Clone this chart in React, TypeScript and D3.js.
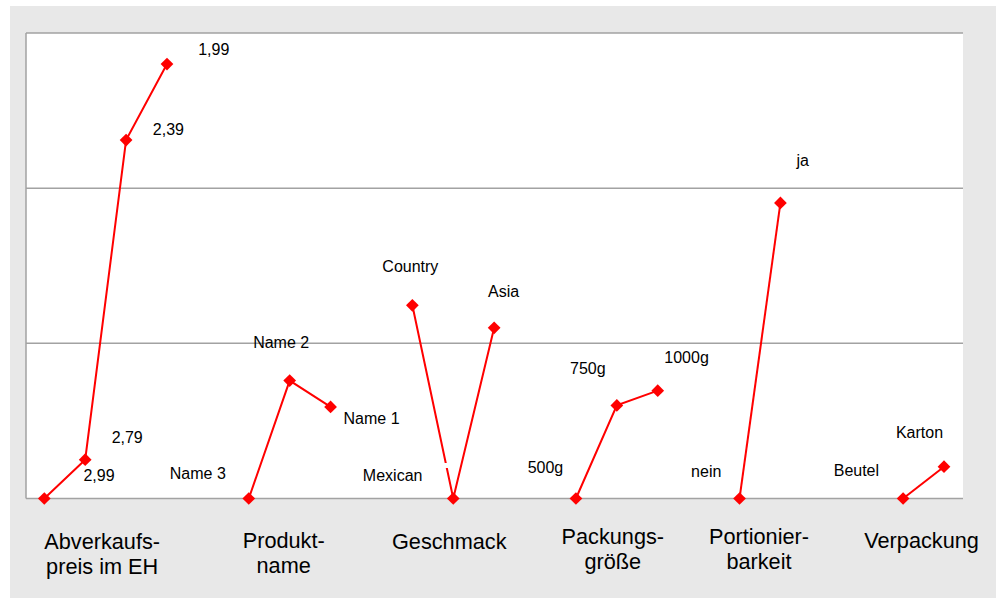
import React from "react";
import * as d3 from "d3";

// ---- data ----
const groupNames: string[][] = [
  ["Abverkaufs-", "preis im EH"],
  ["Produkt-", "name"],
  ["Geschmack"],
  ["Packungs-", "größe"],
  ["Portionier-", "barkeit"],
  ["Verpackung"],
];
const levelsAbverkauf = ["2,99", "2,79", "2,39", "1,99"];
const valuesAbverkauf = [0, 0.25, 2.31, 2.8];
const levelsProdukt = ["Name 3", "Name 2", "Name 1"];
const valuesProdukt = [0, 0.76, 0.59];
const levelsGeschmack = ["Country", "Mexican", "Asia"];
const valuesGeschmack = [1.245, 0, 1.1];
const levelsPackung = ["500g", "750g", "1000g"];
const valuesPackung = [0, 0.6, 0.695];
const levelsPortion = ["nein", "ja"];
const valuesPortion = [0, 1.905];
const levelsVerpackung = ["Beutel", "Karton"];
const valuesVerpackung = [0, 0.205];
const yTicks = [0, 1, 2, 3];

// ---- layout / style (not data) ----
const gapAfter = [1, 1, 1, 1, 2];
const groupLabelDx = [-3.5, -6, -4, -4, -1, -2];
const groupLabelBaseline = [548.5, 548, 548.5, 544.3, 544.3, 548.3];
const labelOffsets: [number, number][][] = [
  [[54.7, -17.5], [42, -17], [42.3, -4.7], [46.8, -9.3]],
  [[-51, -19.5], [-8.5, -32.4], [41, 17.3]],
  [[-2, -33.7], [-60.6, -17.3], [9.5, -31]],
  [[-30.5, -26], [-29, -31], [28.8, -27.4]],
  [[-33.3, -22], [22.3, -37.3]],
  [[-46.7, -23], [-24.5, -29]],
];

const levels = [levelsAbverkauf, levelsProdukt, levelsGeschmack, levelsPackung, levelsPortion, levelsVerpackung];
const values = [valuesAbverkauf, valuesProdukt, valuesGeschmack, valuesPackung, valuesPortion, valuesVerpackung];

const W = 998, H = 598;
const plot = { left: 26, right: 963, top: 33, bottom: 498.5 };
const FONT = "'Liberation Sans', Arial, sans-serif";

// build slot keys
const slots: string[] = [];
const slotOf: string[][] = [];
levels.forEach((lv, gi) => {
  slotOf.push(lv.map((l) => { const k = `${gi}:${l}`; slots.push(k); return k; }));
  if (gi < gapAfter.length) for (let g = 0; g < gapAfter[gi]; g++) slots.push(`gap${gi}-${g}`);
});

export default function App() {
  const x = d3.scalePoint<string>().domain(slots).range([44.3, 944]);
  const y = d3.scaleLinear().domain([0, 3]).range([plot.bottom, plot.top]);
  const line = d3.line<[number, number]>().x((d) => d[0]).y((d) => d[1]);
  const diamond = d3.symbol().type(d3.symbolSquare).size(81)();

  // small white break on the Country–Mexican segment (hidden label box in the original)
  const gx1 = x(slotOf[2][0])!, gy1 = y(valuesGeschmack[0]);
  const gx2 = x(slotOf[2][1])!, gy2 = y(valuesGeschmack[1]);
  const tBreak = (465.5 - gy1) / (gy2 - gy1);
  const breakX = gx1 + (gx2 - gx1) * tBreak;

  return (
    <svg width={W} height={H} style={{ position: "absolute", left: 0, top: 0 }} fontFamily={FONT}>
      <rect x={10} y={6} width={986} height={H - 6} fill="#e8e8e8" />
      <rect x={plot.left} y={plot.top} width={plot.right - plot.left} height={plot.bottom - plot.top} fill="#ffffff" />
      {yTicks.map((t) => (
        <line key={t} x1={plot.left} x2={plot.right} y1={y(t)} y2={y(t)} stroke="#a2a2a2" strokeWidth={1.5} />
      ))}
      <line x1={plot.left} x2={plot.left} y1={plot.top} y2={plot.bottom} stroke="#a2a2a2" strokeWidth={1.5} />
      {values.map((vals, gi) => {
        const pts: [number, number][] = vals.map((v, i) => [x(slotOf[gi][i])!, y(v)]);
        return (
          <g key={gi}>
            <path d={line(pts)!} fill="none" stroke="#ff0000" strokeWidth={2} />
            {gi === 2 && <rect x={breakX - 3} y={463} width={6} height={5} fill="#ffffff" />}
            {pts.map((p, i) => (
              <path key={i} d={diamond} transform={`translate(${p[0]},${p[1]}) rotate(45)`} fill="#ff0000" />
            ))}
            {pts.map((p, i) => (
              <text key={"t" + i} x={p[0] + labelOffsets[gi][i][0]} y={p[1] + labelOffsets[gi][i][1]}
                textAnchor="middle" fontSize={16} fill="#000">{levels[gi][i]}</text>
            ))}
          </g>
        );
      })}
      {groupNames.map((lines, gi) => {
        const xs = slotOf[gi].map((k) => x(k)!);
        const cx = (d3.min(xs)! + d3.max(xs)!) / 2 + groupLabelDx[gi];
        return (
          <text key={gi} x={cx} y={groupLabelBaseline[gi]} textAnchor="middle" fontSize={21.7} fill="#000">
            {lines.map((l, li) => (
              <tspan key={li} x={cx} dy={li === 0 ? 0 : 25}>{l}</tspan>
            ))}
          </text>
        );
      })}
    </svg>
  );
}
